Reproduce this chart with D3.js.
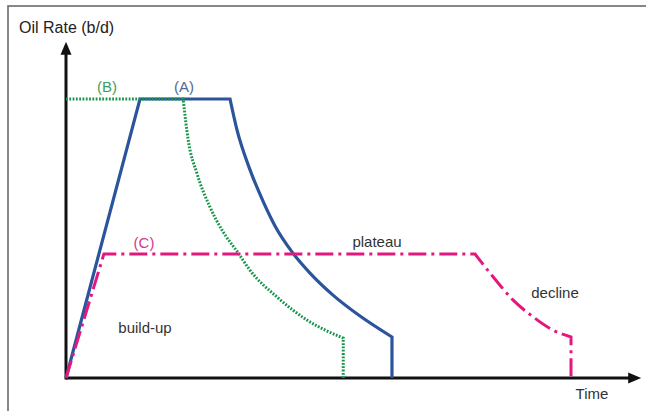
<!DOCTYPE html>
<html>
<head>
<meta charset="utf-8">
<script src="https://cdn.jsdelivr.net/npm/d3@7"></script>
<style>
  html, body { margin: 0; padding: 0; background: #fff; }
  svg { display: block; }
  text { font-family: "Liberation Sans", Arial, Helvetica, sans-serif; }
</style>
</head>
<body>
<script>
// ---- data (time in arbitrary units, oil rate as % of peak) ----
const timeA = [0, 14.65, 32.48, 33.86, 36.44, 39.01, 41.39, 44.75, 48.32, 52.87, 58.22, 64.55, 64.55];
const rateA = [0, 100, 100, 88.9, 74.6, 63.4, 54.5, 45.2, 37.6, 29.7, 22.2, 14.7, 0];

const timeB = [0, 23.2, 24.2, 25.9, 28.5, 30.9, 34.1, 36.4, 41.8, 47.7, 54.9, 54.9];
const rateB = [100, 100, 85.3, 73.5, 61.3, 53.0, 44.8, 38.7, 29.0, 20.8, 14.3, 0];

const timeC = [0, 7.5, 81.0, 84.6, 88.5, 92.5, 96.4, 100, 100];
const rateC = [0, 44.4, 44.4, 36.2, 28.0, 21.9, 17.2, 14.7, 0];

const seriesNames = ["(A)", "(B)", "(C)"];
const phaseLabels = ["build-up", "plateau", "decline"];
const axisTitles = ["Oil Rate (b/d)", "Time"];

// ---- layout ----
const W = 646, H = 411;
const svg = d3.select("body").append("svg").attr("width", W).attr("height", H);

const x = d3.scaleLinear().domain([0, 100]).range([66, 571]);
const y = d3.scaleLinear().domain([0, 100]).range([378, 99]);

// frame
svg.append("rect")
  .attr("x", 8).attr("y", 6).attr("width", W + 10).attr("height", H + 10)
  .attr("fill", "none").attr("stroke", "#6a6a6a").attr("stroke-width", 1.6);

// axes with arrows
const x0 = x(0), y0 = y(0);
const xEnd = x(113.9), yEnd = y(120.5);
const axisG = svg.append("g");
axisG.append("line").attr("x1", x0).attr("y1", y0).attr("x2", xEnd - 8).attr("y2", y0)
  .attr("stroke", "#111").attr("stroke-width", 3);
axisG.append("line").attr("x1", x0).attr("y1", y0 + 1.5).attr("x2", x0).attr("y2", yEnd + 8)
  .attr("stroke", "#111").attr("stroke-width", 3);
axisG.append("path")
  .attr("d", `M${xEnd},${y0} L${xEnd - 13},${y0 - 5.5} L${xEnd - 13},${y0 + 5.5} Z`)
  .attr("fill", "#111");
axisG.append("path")
  .attr("d", `M${x0},${yEnd} L${x0 - 5.5},${yEnd + 13} L${x0 + 5.5},${yEnd + 13} Z`)
  .attr("fill", "#111");

// lines: straight build-up / plateau, smooth decline, straight abandonment drop
const lin = d3.line().x(d => x(d[0])).y(d => y(d[1])).curve(d3.curveLinear);
const smooth = d3.line().x(d => x(d[0])).y(d => y(d[1])).curve(d3.curveMonotoneX);
const zip = (a, b) => a.map((v, i) => [v, b[i]]);
function pathFor(pts, k, m) {
  return lin(pts.slice(0, k + 1)) +
    smooth(pts.slice(k, m + 1)).replace(/^M/, "L") +
    lin(pts.slice(m)).replace(/^M/, "L");
}

svg.append("path")
  .attr("d", pathFor(zip(timeA, rateA), 2, 11)).attr("fill", "none")
  .attr("stroke", "#2a559c").attr("stroke-width", 3.2)
  .attr("stroke-linejoin", "miter");

svg.append("path")
  .attr("d", pathFor(zip(timeB, rateB), 1, 10)).attr("fill", "none")
  .attr("stroke", "#17954c").attr("stroke-width", 3)
  .attr("stroke-dasharray", "1.8,1.5");

svg.append("path")
  .attr("d", pathFor(zip(timeC, rateC), 2, 7)).attr("fill", "none")
  .attr("stroke", "#e3187f").attr("stroke-width", 3)
  .attr("stroke-dasharray", "18,5,3,5");

// labels
function label(txt, cx, cy, color, anchor, size) {
  svg.append("text").attr("x", cx).attr("y", cy)
    .attr("text-anchor", anchor || "middle").attr("dominant-baseline", "central")
    .attr("font-size", size || 15).attr("fill", color).text(txt);
}
label(seriesNames[0], 184, 86, "#4f6a9c");
label(seriesNames[1], 107, 86, "#3f9e63");
label(seriesNames[2], 144, 242, "#d4378c");
label(phaseLabels[0], 145, 327, "#333");
label(phaseLabels[1], 377, 241, "#333");
label(phaseLabels[2], 555, 292, "#333");
label(axisTitles[0], 19, 27, "#222", "start", 16);
label(axisTitles[1], 592, 393, "#333");
</script>
</body>
</html>
